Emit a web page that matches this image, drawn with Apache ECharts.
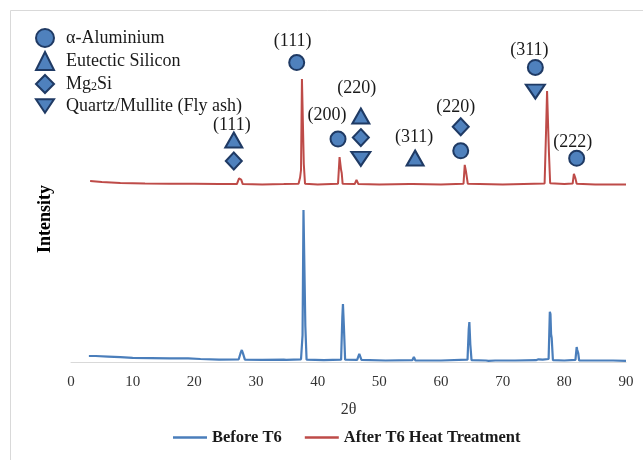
<!DOCTYPE html>
<html>
<head>
<meta charset="utf-8">
<script src="https://cdn.jsdelivr.net/npm/echarts@6/dist/echarts.min.js"></script>
<style>
  html, body { margin: 0; padding: 0; background: #ffffff; }
  #chart { width: 643px; height: 460px; }
</style>
</head>
<body>
<div id="chart"></div>
<script>
// XRD patterns: diffraction angle 2θ (degrees) and intensity (a.u.)
const beforeTheta = [2.9, 4, 6, 8, 10, 13, 16, 19, 21, 24, 27.2, 27.5, 27.7, 27.9, 28.2, 31, 34.5, 34.7, 34.9,
  37.3, 37.55, 37.7, 37.85, 38.0, 38.2, 41, 43.8, 44.0, 44.1, 44.25, 44.45, 46.4, 46.75, 47.1, 51,
  55.35, 55.6, 55.85, 60, 64.3, 64.5, 64.6, 64.75, 64.95, 67.3, 67.5, 67.7, 68.8, 69, 69.2, 72,
  75.4, 75.8, 76.5, 77.45, 77.65, 77.75, 77.85, 77.95, 78.15, 80, 81.8, 82.0, 82.1, 82.25, 82.4,
  85, 87.4, 87.6, 87.9, 90];
const beforeIntensity = [20, 20, 18, 16, 14, 13, 12, 12, 10, 8, 9, 30, 40, 28, 8, 7, 8, 12, 7,
  9, 90, 507, 507, 120, 8, 6, 8, 150, 193, 120, 8, 7, 27, 7, 5,
  6, 17, 5, 5, 8, 110, 133, 60, 6, 5, 9, 4, 5, 8, 5, 5,
  6, 9, 8, 10, 167, 160, 93, 80, 6, 5, 7, 50, 40, 30, 5,
  5, 5, 10, 5, 4];

const afterTheta = [3.1, 5, 8, 12, 16, 20, 24, 26.9, 27.25, 27.4, 27.6, 27.85, 31, 34.5, 36.9,
  37.15, 37.3, 37.45, 37.6, 37.75, 37.95, 40, 43.3, 43.55, 43.7, 43.8, 43.9, 44.05, 46.0, 46.3, 46.6,
  50, 54.9, 55.15, 55.4, 60, 63.65, 63.85, 63.95, 64.05, 64.2, 64.35, 70, 76.8, 77.05, 77.2, 77.35,
  77.5, 77.7, 80, 81.35, 81.55, 81.65, 81.8, 82.0, 85, 90];
const afterIntensity = [603, 600, 597, 595, 594, 594, 593, 593, 612, 617, 608, 593, 592, 593, 594,
  615, 640, 943, 943, 660, 594, 592, 594, 683, 683, 640, 630, 594, 593, 607, 593,
  592, 593, 598, 593, 592, 594, 657, 657, 635, 630, 594, 592, 595, 780, 903, 903,
  700, 596, 593, 595, 627, 627, 612, 594, 592, 592];

const xTicks = [0, 10, 20, 30, 40, 50, 60, 70, 80, 90];

// Phase identification markers: 2θ position, height above the trace, Miller indices
const aluminiumTheta = [36.6, 43.3, 63.2, 75.3, 82.0];
const aluminiumLevel = [998, 743, 704, 982, 679];
const aluminiumHkl = ['(111)', '(200)', '', '(311)', '(222)'];

const siliconTheta = [26.4, 47.0, 55.8];
const siliconLevel = [740, 820, 680];
const siliconHkl = ['(111)', '(220)', '(311)'];

const mg2siTheta = [26.4, 47.0, 63.2];
const mg2siLevel = [670, 748, 784];
const mg2siHkl = ['', '', '(220)'];

const quartzTheta = [47.0, 75.3];
const quartzLevel = [677, 901];
const quartzHkl = ['', ''];

// label placement relative to its marker (px)
const aluminiumLabelShift = [[-4, -21], [-11, -24], [0, 0], [-6, -17], [-4, -16]];
const siliconLabelShift = [[-2, -15], [-4, -28], [-1, -21]];
const mg2siLabelShift = [[0, 0], [0, 0], [-5, -20]];
const quartzLabelShift = [[0, 0], [0, 0]];

const SERIF = '"Liberation Serif", "Times New Roman", serif';
const MARK_FILL = '#4F81BD';
const MARK_EDGE = '#1F3A64';
const DOWN_TRIANGLE = 'path://M0,0 L20,0 L10,15 Z';

function zip(xs, ys) {
  return xs.map((x, i) => [x, ys[i]]);
}

function markerData(xs, ys, hkl, shifts) {
  return xs.map((x, i) => {
    const item = { value: [x, ys[i]] };
    if (hkl[i]) {
      item.label = {
        show: true,
        formatter: hkl[i],
        position: 'inside',
        offset: shifts[i],
        color: '#1a1a1a',
        fontSize: 18,
        fontFamily: SERIF
      };
    }
    return item;
  });
}

function markerSeries(name, symbol, size, xs, ys, hkl, shifts) {
  return {
    name: name,
    type: 'scatter',
    symbol: symbol,
    symbolSize: size,
    clip: false,
    z: 5,
    itemStyle: { color: MARK_FILL, borderColor: MARK_EDGE, borderWidth: 2, opacity: 1 },
    emphasis: { disabled: true },
    data: markerData(xs, ys, hkl, shifts)
  };
}

const chart = echarts.init(document.getElementById('chart'), null, { renderer: 'canvas' });

chart.setOption({
  animation: false,
  backgroundColor: '#ffffff',
  graphic: [
    {
      type: 'rect',
      shape: { x: 10.5, y: 10.5, width: 1000, height: 1000 },
      style: { fill: 'none', stroke: '#D9D9D9', lineWidth: 1 },
      silent: true
    },
    {
      type: 'text',
      x: 45,
      y: 219,
      rotation: Math.PI / 2,
      style: {
        text: 'Intensity',
        fontSize: 18,
        fontWeight: 'bold',
        fontFamily: SERIF,
        fill: '#000000',
        align: 'center',
        verticalAlign: 'middle'
      },
      silent: true
    }
  ],
  grid: { left: 71, right: 17, top: 32, bottom: 98 },
  xAxis: {
    type: 'value',
    min: xTicks[0],
    max: xTicks[xTicks.length - 1],
    interval: xTicks[1] - xTicks[0],
    name: '2θ',
    nameLocation: 'middle',
    nameGap: 40,
    nameTextStyle: { fontSize: 16, fontFamily: SERIF, color: '#333333' },
    axisLine: { show: true, lineStyle: { color: '#D9D9D9', width: 1 } },
    axisTick: { show: false },
    splitLine: { show: false },
    axisLabel: { fontSize: 15, fontFamily: SERIF, color: '#333333', margin: 13 }
  },
  yAxis: {
    type: 'value',
    min: 0,
    max: 1100,
    show: false
  },
  legend: [
    {
      data: ['α-Aluminium', 'Eutectic Silicon', 'Mg2Si', 'Quartz/Mullite (Fly ash)'],
      orient: 'vertical',
      left: 30,
      top: 23,
      itemWidth: 18,
      itemHeight: 18,
      itemGap: 3,
      selectedMode: false,
      formatter: function (name) {
        return name === 'Mg2Si' ? 'Mg{sub|2}Si' : name;
      },
      textStyle: {
        fontSize: 18,
        lineHeight: 18,
        fontFamily: SERIF,
        color: '#1a1a1a',
        padding: [0, 0, 0, 7],
        rich: {
          sub: {
            fontSize: 12,
            lineHeight: 12,
            verticalAlign: 'bottom',
            fontFamily: SERIF,
            color: '#1a1a1a',
            padding: [2, 0, 0, 0]
          }
        }
      }
    },
    {
      data: ['Before T6', 'After T6 Heat Treatment'],
      left: 168,
      top: 424,
      icon: 'rect',
      itemWidth: 34,
      itemHeight: 2.5,
      itemGap: 23,
      selectedMode: false,
      textStyle: { fontSize: 16.5, fontWeight: 'bold', fontFamily: SERIF, color: '#1a1a1a' }
    }
  ],
  series: [
    {
      name: 'Before T6',
      type: 'line',
      symbol: 'none',
      color: '#4A7EBB',
      lineStyle: { color: '#4A7EBB', width: 2.2 },
      emphasis: { disabled: true },
      data: zip(beforeTheta, beforeIntensity)
    },
    {
      name: 'After T6 Heat Treatment',
      type: 'line',
      symbol: 'none',
      color: '#BE4B48',
      lineStyle: { color: '#BE4B48', width: 2 },
      emphasis: { disabled: true },
      data: zip(afterTheta, afterIntensity)
    },
    markerSeries('α-Aluminium', 'circle', 15, aluminiumTheta, aluminiumLevel, aluminiumHkl, aluminiumLabelShift),
    markerSeries('Eutectic Silicon', 'triangle', [17, 15], siliconTheta, siliconLevel, siliconHkl, siliconLabelShift),
    markerSeries('Mg2Si', 'diamond', [16, 17], mg2siTheta, mg2siLevel, mg2siHkl, mg2siLabelShift),
    markerSeries('Quartz/Mullite (Fly ash)', DOWN_TRIANGLE, [19, 14], quartzTheta, quartzLevel, quartzHkl, quartzLabelShift)
  ]
});
</script>
</body>
</html>
